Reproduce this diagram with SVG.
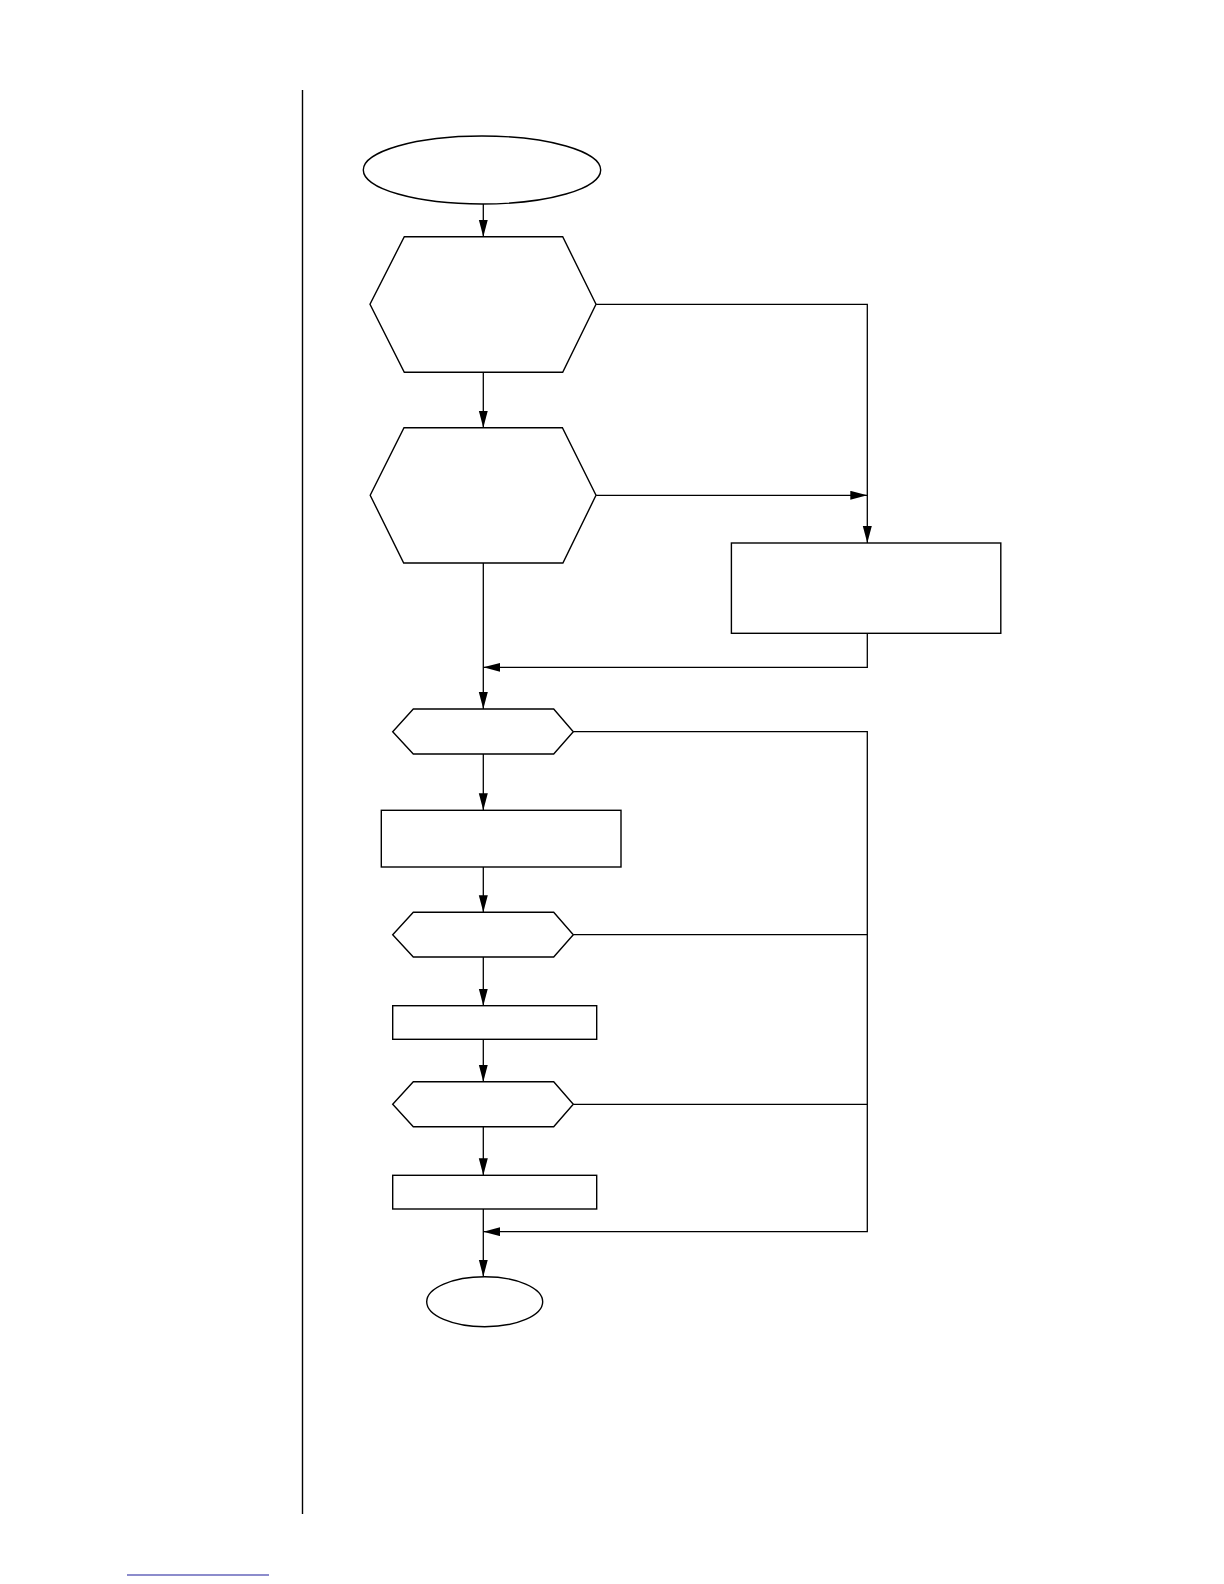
<svg xmlns="http://www.w3.org/2000/svg" width="1224" height="1584" viewBox="0 0 1224 1584">
<style>
.s{fill:#fff;stroke:#000;stroke-width:1.4}
.c{fill:none;stroke:#000;stroke-width:1.3}
</style>
<defs>
<marker id="ah" markerUnits="userSpaceOnUse" markerWidth="18" markerHeight="10" refX="17" refY="4.5" orient="auto">
<path d="M0,0 L17,4.5 L0,9 Z" fill="#000"/>
</marker>
</defs>
<rect width="1224" height="1584" fill="#fff"/>
<line x1="302.5" y1="90" x2="302.5" y2="1514" stroke="#000" stroke-width="1.4"/>
<line x1="127" y1="1575" x2="269" y2="1575" stroke="#1a1a9a" stroke-width="1.2"/>
<g id="connectors">
<path class="c" d="M483.3,204 V236.7" marker-end="url(#ah)"/>
<path class="c" d="M483.3,372.3 V427.7" marker-end="url(#ah)"/>
<path class="c" d="M596,304.3 H867.3 V543" marker-end="url(#ah)"/>
<path class="c" d="M596,495.3 H867.3" marker-end="url(#ah)"/>
<path class="c" d="M483.3,563 V709" marker-end="url(#ah)"/>
<path class="c" d="M867.3,633.3 V667.3 H483.3" marker-end="url(#ah)"/>
<path class="c" d="M483.3,754 V810.3" marker-end="url(#ah)"/>
<path class="c" d="M483.3,867 V912.3" marker-end="url(#ah)"/>
<path class="c" d="M483.3,957 V1005.7" marker-end="url(#ah)"/>
<path class="c" d="M483.3,1039.3 V1081.7" marker-end="url(#ah)"/>
<path class="c" d="M483.3,1126.7 V1175.3" marker-end="url(#ah)"/>
<path class="c" d="M483.3,1209 V1276.7" marker-end="url(#ah)"/>
<path class="c" d="M573.3,731.7 H867.3 V1231.7 H483.3" marker-end="url(#ah)"/>
<path class="c" d="M573.3,934.7 H867.3"/>
<path class="c" d="M573.3,1104.3 H867.3"/>
</g>
<g id="start"><ellipse class="s" cx="482" cy="170" rx="118.7" ry="34"/></g>
<g id="decision1"><polygon class="s" points="404.3,236.7 562.7,236.7 596,304.3 562.7,372.3 404.3,372.3 370,304.3"/></g>
<g id="decision2"><polygon class="s" points="404,427.7 562.4,427.7 596,495.3 562.9,563 403.7,563 370.2,495.3"/></g>
<g id="process1"><rect class="s" x="731.4" y="543" width="269.4" height="90.3"/></g>
<g id="decision3"><polygon class="s" points="413.3,709 553.7,709 573.3,731.7 553.7,754 413.3,754 392.7,731.7"/></g>
<g id="process2"><rect class="s" x="381.3" y="810.3" width="239.7" height="56.7"/></g>
<g id="decision4"><polygon class="s" points="413.3,912.3 553.7,912.3 573.3,934.7 553.7,957 413.3,957 392.7,934.7"/></g>
<g id="process3"><rect class="s" x="392.7" y="1005.7" width="204" height="33.6"/></g>
<g id="decision5"><polygon class="s" points="413.3,1081.7 553.7,1081.7 573.3,1104.3 553.7,1126.7 413.3,1126.7 392.7,1104.3"/></g>
<g id="process4"><rect class="s" x="392.7" y="1175.3" width="204" height="33.7"/></g>
<g id="end"><ellipse class="s" cx="484.7" cy="1301.7" rx="58" ry="25"/></g>
</svg>
